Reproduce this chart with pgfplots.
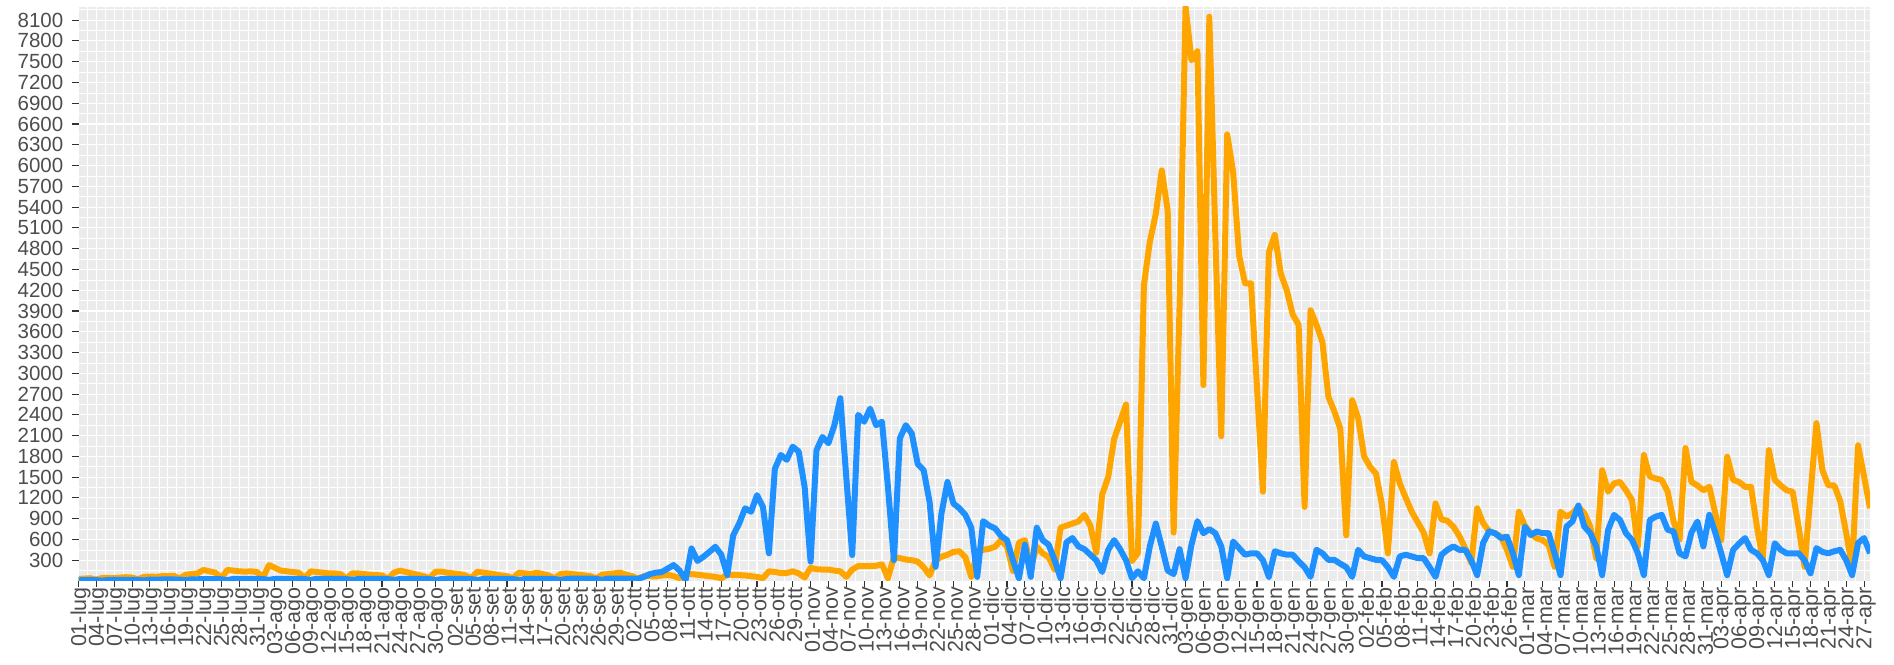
\documentclass[border=0pt]{standalone}
\usepackage{fontspec}
\setmainfont{Liberation Sans}
\usepackage{pgfplots}
\pgfplotsset{compat=1.18}
\usepackage{pgfplotstable}

\definecolor{panelgray}{HTML}{EBEBEB}
\definecolor{ticktext}{HTML}{4D4D4D}
\definecolor{tickmark}{HTML}{333333}
\definecolor{lineorange}{HTML}{FFA500}
\definecolor{lineblue}{HTML}{1E90FF}

% d = day since 01-lug, o = orange series, b = blue series
\pgfplotstableread[row sep=\\]{
d o b\\
0 30 10\\ 1 35 12\\ 2 40 15\\ 3 20 12\\ 4 45 5\\ 5 45 15\\ 6 40 15\\
7 50 15\\ 8 55 18\\ 9 50 18\\ 10 25 15\\ 11 60 8\\ 12 65 20\\ 13 60 20\\
14 70 22\\ 15 70 22\\ 16 75 22\\ 17 35 20\\ 18 90 10\\ 19 100 25\\ 20 110 25\\
21 160 28\\ 22 140 28\\ 23 120 28\\ 24 40 25\\ 25 160 12\\ 26 150 30\\ 27 140 30\\
28 135 30\\ 29 140 30\\ 30 130 30\\ 31 50 28\\ 32 230 15\\ 33 190 32\\ 34 150 32\\
35 140 32\\ 36 130 32\\ 37 120 32\\ 38 40 28\\ 39 140 15\\ 40 130 32\\ 41 120 32\\
42 110 30\\ 43 110 30\\ 44 100 30\\ 45 35 28\\ 46 110 15\\ 47 110 30\\ 48 100 30\\
49 90 30\\ 50 85 30\\ 51 80 30\\ 52 30 28\\ 53 120 15\\ 54 150 30\\ 55 130 30\\
56 110 30\\ 57 90 30\\ 58 70 30\\ 59 40 28\\ 60 135 12\\ 61 135 28\\ 62 120 30\\
63 110 30\\ 64 100 30\\ 65 80 30\\ 66 40 28\\ 67 135 12\\ 68 120 30\\ 69 110 30\\
70 95 30\\ 71 80 30\\ 72 70 30\\ 73 40 28\\ 74 120 12\\ 75 110 30\\ 76 100 30\\
77 120 30\\ 78 100 30\\ 79 80 30\\ 80 40 28\\ 81 100 12\\ 82 110 30\\ 83 100 35\\
84 90 35\\ 85 80 35\\ 86 70 35\\ 87 40 30\\ 88 90 15\\ 89 100 35\\ 90 110 35\\
91 120 35\\ 92 90 35\\ 93 70 35\\ 94 35 30\\ 95 70 60\\ 96 70 100\\ 97 65 120\\
98 80 130\\ 99 90 180\\ 100 70 230\\ 101 40 150\\ 102 110 15\\ 103 100 470\\ 104 90 290\\
105 80 350\\ 106 70 420\\ 107 60 495\\ 108 40 380\\ 109 90 87\\ 110 90 660\\ 111 85 830\\
112 80 1050\\ 113 70 1000\\ 114 60 1240\\ 115 40 1070\\ 116 140 400\\ 117 130 1620\\ 118 115 1820\\
119 115 1750\\ 120 140 1940\\ 121 110 1870\\ 122 50 1360\\ 123 190 280\\ 124 170 1890\\ 125 165 2080\\
126 165 1990\\ 127 150 2250\\ 128 140 2640\\ 129 60 1500\\ 130 165 375\\ 131 215 2400\\ 132 215 2300\\
133 215 2490\\ 134 220 2250\\ 135 240 2300\\ 136 40 1360\\ 137 350 300\\ 138 330 2060\\ 139 310 2250\\
140 300 2130\\ 141 280 1690\\ 142 200 1600\\ 143 80 1140\\ 144 300 205\\ 145 350 980\\ 146 380 1430\\
147 420 1120\\ 148 430 1050\\ 149 345 955\\ 150 60 770\\ 151 430 60\\ 152 450 865\\ 153 465 800\\
154 495 760\\ 155 590 650\\ 156 500 590\\ 157 145 300\\ 158 555 40\\ 159 590 525\\ 160 200 60\\
161 495 770\\ 162 400 590\\ 163 345 525\\ 164 165 300\\ 165 770 40\\ 166 800 560\\ 167 830 620\\
168 860 500\\ 169 955 460\\ 170 800 380\\ 171 410 300\\ 172 1250 130\\ 173 1500 450\\ 174 2050 590\\
175 2300 460\\ 176 2550 300\\ 177 290 40\\ 178 405 140\\ 179 4270 40\\ 180 4900 500\\ 181 5300 830\\
182 5930 500\\ 183 5350 150\\ 184 700 100\\ 185 4000 460\\ 186 8290 40\\ 187 7520 525\\ 188 7650 865\\
189 2830 690\\ 190 8150 750\\ 191 5000 690\\ 192 2090 500\\ 193 6450 40\\ 194 5900 570\\ 195 4700 475\\
196 4300 380\\ 197 4300 400\\ 198 2800 400\\ 199 1290 300\\ 200 4750 60\\ 201 5000 430\\ 202 4440 400\\
203 4200 380\\ 204 3850 380\\ 205 3700 285\\ 206 1070 200\\ 207 3910 60\\ 208 3700 450\\ 209 3450 400\\
210 2660 305\\ 211 2450 305\\ 212 2200 250\\ 213 660 200\\ 214 2610 60\\ 215 2350 450\\ 216 1800 355\\
217 1650 330\\ 218 1550 305\\ 219 1100 300\\ 220 400 200\\ 221 1720 60\\ 222 1410 355\\ 223 1200 380\\
224 1000 355\\ 225 850 330\\ 226 700 330\\ 227 400 200\\ 228 1120 60\\ 229 890 380\\ 230 870 450\\
231 785 500\\ 232 650 450\\ 233 470 450\\ 234 260 300\\ 235 1050 85\\ 236 835 550\\ 237 720 715\\
238 690 690\\ 239 640 620\\ 240 450 640\\ 241 205 400\\ 242 1000 85\\ 243 800 785\\ 244 690 665\\
245 615 715\\ 246 590 690\\ 247 520 690\\ 248 205 400\\ 249 1000 85\\ 250 930 785\\ 251 980 860\\
252 1070 1090\\ 253 980 785\\ 254 785 690\\ 255 330 500\\ 256 1600 85\\ 257 1290 740\\ 258 1410 955\\
259 1430 880\\ 260 1310 690\\ 261 1170 595\\ 262 500 400\\ 263 1820 85\\ 264 1510 880\\ 265 1480 930\\
266 1460 955\\ 267 1290 740\\ 268 860 715\\ 269 600 400\\ 270 1920 355\\ 271 1430 700\\ 272 1380 860\\
273 1310 500\\ 274 1360 955\\ 275 980 700\\ 276 590 400\\ 277 1795 85\\ 278 1460 450\\ 279 1430 540\\
280 1360 620\\ 281 1360 450\\ 282 785 400\\ 283 300 300\\ 284 1890 85\\ 285 1460 545\\ 286 1380 450\\
287 1310 400\\ 288 1290 400\\ 289 785 400\\ 290 205 300\\ 291 1250 110\\ 292 2280 475\\ 293 1600 420\\
294 1380 400\\ 295 1380 430\\ 296 1150 450\\ 297 690 300\\ 298 205 85\\ 299 1960 550\\ 300 1510 620\\
301 1050 400\\
}\data

\begin{document}
\begin{tikzpicture}
\useasboundingbox (0,0) rectangle (1894bp,665bp);
\begin{axis}[
  at={(78.5bp,84bp)}, anchor=south west,
  scale only axis, width=1791.5bp, height=574bp,
  xmin=0, xmax=301, ymin=0, ymax=8290,
  axis background/.style={fill=panelgray},
  axis line style={draw=none},
  xtick={0,3,...,300},
  xticklabels={01-lug,04-lug,07-lug,10-lug,13-lug,16-lug,19-lug,22-lug,25-lug,28-lug,31-lug,
    03-ago,06-ago,09-ago,12-ago,15-ago,18-ago,21-ago,24-ago,27-ago,30-ago,
    02-set,05-set,08-set,11-set,14-set,17-set,20-set,23-set,26-set,29-set,
    02-ott,05-ott,08-ott,11-ott,14-ott,17-ott,20-ott,23-ott,26-ott,29-ott,
    01-nov,04-nov,07-nov,10-nov,13-nov,16-nov,19-nov,22-nov,25-nov,28-nov,
    01-dic,04-dic,07-dic,10-dic,13-dic,16-dic,19-dic,22-dic,25-dic,28-dic,31-dic,
    03-gen,06-gen,09-gen,12-gen,15-gen,18-gen,21-gen,24-gen,27-gen,30-gen,
    02-feb,05-feb,08-feb,11-feb,14-feb,17-feb,20-feb,23-feb,26-feb,
    01-mar,04-mar,07-mar,10-mar,13-mar,16-mar,19-mar,22-mar,25-mar,28-mar,31-mar,
    03-apr,06-apr,09-apr,12-apr,15-apr,18-apr,21-apr,24-apr,27-apr},
  minor x tick num=1,
  ytick={300,600,...,8100},
  minor ytick={150,450,...,8250},
  tick pos=left,
  grid=both,
  major grid style={white, line width=1.1bp},
  minor grid style={white, line width=0.55bp},
  tick align=outside,
  major tick length=6bp, minor tick length=0pt,
  every tick/.style={tickmark, line width=1.1bp},
  /pgf/number format/1000 sep={},
  /pgf/number format/assume math mode=true,
  yticklabel style={font=\fontsize{20.5bp}{24bp}\selectfont, color=ticktext,
    anchor=east, inner sep=0pt, xshift=-9bp},
  xticklabel style={font=\fontsize{21.5bp}{24bp}\selectfont, color=ticktext,
    rotate=90, anchor=east, inner sep=0pt, yshift=-2bp},
]
\addplot[lineorange, line width=6bp, line join=round] table[x=d, y=o]{\data};
\addplot[lineblue, line width=6bp, line join=round] table[x=d, y=b]{\data};
\end{axis}
\end{tikzpicture}
\end{document}
